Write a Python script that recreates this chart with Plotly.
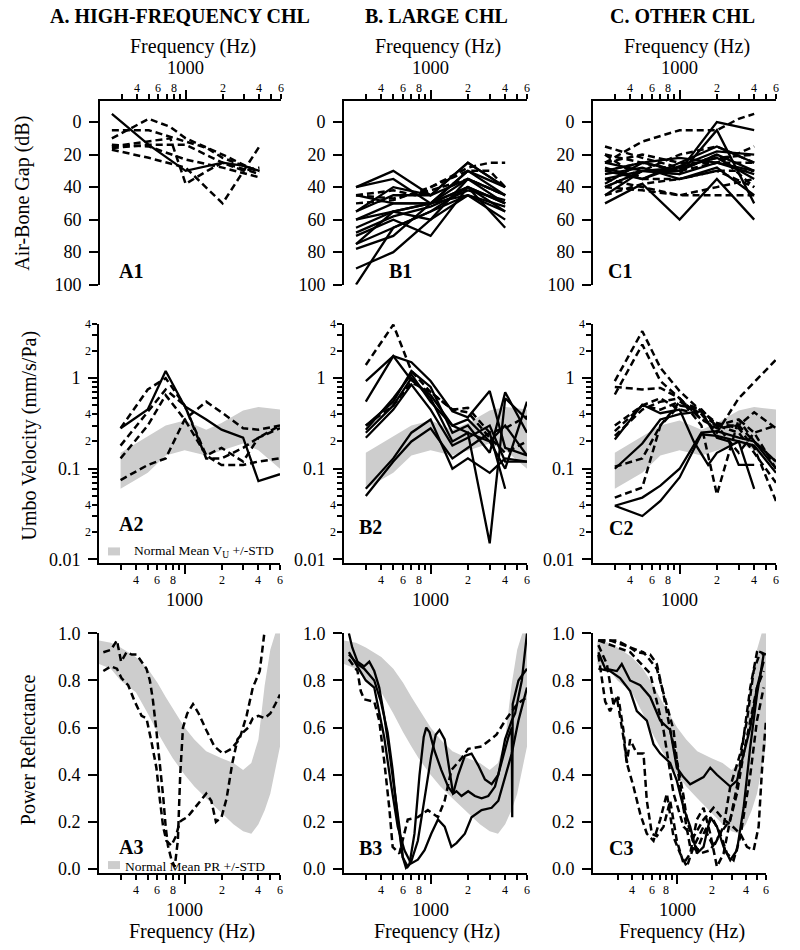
import numpy as np
import plotly.graph_objects as go

W, H = 800, 950
FONT = "Liberation Serif"
INK = "#000000"
BAND = "rgb(205,205,205)"

# ============================ DATA ============================
# ---------- Row 1: Air-Bone Gap (dB) ----------
A1_SOLID_F = [[250, 500, 1000, 2000, 3000, 4000]]
A1_SOLID_V = [[-5, 14, 30, 25, 27, 30]]
A1_DASH_F = [
    [250, 500, 750, 1000, 2000, 4000],
    [250, 500, 1000, 1500, 2000, 3000, 4000],
    [250, 500, 1000, 2000, 4000],
    [250, 500, 1000, 2000, 4000],
    [250, 750, 1000, 1500, 2000, 3000, 4000],
    [250, 500, 1000, 2000, 3000, 4000],
]
A1_DASH_V = [
    [10, -2, 3, 10, 20, 31],
    [5, 5, 12, 16, 22, 27, 30],
    [14, 15, 23, 28, 34],
    [17, 22, 28, 50, 15],
    [15, 10, 38, 30, 25, 30, 28],
    [16, 14, 14, 25, 29, 32],
]

B1_FREQ = [250, 500, 1000, 2000, 4000]
B1_SOLID_V = [
    [40, 30, 45, 25, 40],
    [40, 35, 50, 30, 45],
    [55, 45, 45, 35, 50],
    [60, 50, 50, 40, 55],
    [65, 55, 60, 35, 45],
    [70, 60, 70, 40, 50],
    [75, 65, 55, 45, 60],
    [78, 70, 50, 40, 65],
    [90, 80, 60, 45, 55],
    [100, 65, 55, 40, 50],
    [60, 55, 50, 30, 40],
    [45, 50, 50, 35, 45],
    [68, 58, 52, 42, 48],
    [55, 40, 45, 25, 40],
    [75, 55, 50, 45, 52],
]
B1_DASH_F = [
    [250, 500, 750, 1000, 2000, 3000, 4000],
    [250, 500, 1000, 2000, 3000, 4000],
    [250, 500, 1000, 2000, 4000],
]
B1_DASH_V = [
    [45, 42, 45, 40, 28, 25, 25],
    [50, 48, 40, 30, 30, 40],
    [45, 47, 42, 35, 45],
]

C1_FREQ = [250, 500, 1000, 2000, 4000]
C1_SOLID_V = [
    [50, 38, 60, 35, 60],
    [45, 30, 30, 0, 5],
    [35, 30, 32, 5, 50],
    [30, 25, 30, 20, 30],
    [28, 35, 25, 15, 25],
    [40, 30, 28, 22, 35],
    [25, 30, 32, 25, 30],
    [32, 28, 35, 28, 45],
    [30, 35, 27, 18, 20],
    [38, 25, 22, 25, 32],
]
C1_DASH_F = [
    [250, 500, 1000, 2000, 3000, 4000],
    [250, 500, 1000, 2000, 4000],
    [250, 500, 1000, 2000, 4000],
    [250, 500, 1000, 2000, 4000],
    [250, 500, 1000, 2000, 4000],
    [250, 500, 1000, 2000, 4000],
    [250, 500, 1000, 2000, 4000],
    [250, 500, 1000, 2000, 4000],
    [250, 500, 1000, 2000, 4000],
    [250, 500, 1000, 2000, 4000],
]
C1_DASH_V = [
    [25, 12, 5, 5, -2, -5],
    [20, 25, 30, 20, 40],
    [40, 42, 45, 45, 45],
    [25, 20, 25, 25, 15],
    [35, 40, 45, 40, 35],
    [30, 25, 30, 25, 25],
    [20, 35, 35, 30, 30],
    [40, 30, 20, 15, 25],
    [15, 22, 28, 22, 20],
    [45, 38, 35, 30, 40],
]

# ---------- Row 2: Umbo velocity (mm/s/Pa) ----------
UV_FREQ = [300, 500, 700, 1000, 1500, 2000, 3000, 4000, 6000]
UV_BAND_F = [300, 400, 500, 700, 1000, 1500, 2000, 3000, 4000, 6000]
UV_BAND_HI = [0.15, 0.19, 0.23, 0.30, 0.34, 0.27, 0.32, 0.44, 0.48, 0.45]
UV_BAND_LO = [0.06, 0.075, 0.09, 0.14, 0.16, 0.14, 0.16, 0.19, 0.16, 0.10]

A2_SOLID_V = [[0.28, 0.45, 1.2, 0.49, 0.35, 0.27, 0.22, 0.073, 0.087]]
A2_DASH_V = [
    [0.28, 0.75, 1.0, 0.5, 0.13, 0.13, 0.17, 0.22, 0.30],
    [0.18, 0.42, 0.75, 0.5, 0.14, 0.11, 0.11, 0.12, 0.13],
    [0.13, 0.30, 0.65, 0.35, 0.14, 0.17, 0.12, 0.22, 0.28],
    [0.075, 0.11, 0.13, 0.35, 0.55, 0.42, 0.28, 0.27, 0.30],
]

B2_SOLID_V = [
    [0.93, 1.75, 1.5, 0.93, 0.43, 0.37, 0.72, 0.17, 0.14],
    [0.55, 1.75, 0.95, 0.65, 0.30, 0.25, 0.20, 0.10, 0.55],
    [0.30, 0.55, 1.2, 0.80, 0.25, 0.30, 0.15, 0.70, 0.25],
    [0.25, 0.50, 1.0, 0.60, 0.20, 0.25, 0.015, 0.60, 0.35],
    [0.22, 0.45, 0.85, 0.45, 0.18, 0.22, 0.30, 0.12, 0.12],
    [0.06, 0.13, 0.25, 0.35, 0.10, 0.13, 0.09, 0.13, 0.12],
    [0.05, 0.12, 0.20, 0.28, 0.13, 0.17, 0.25, 0.06, None],
    [0.27, 0.60, 1.1, 0.55, 0.30, 0.35, 0.20, 0.30, 0.14],
]
B2_DASH_V = [
    [1.4, 3.9, 1.2, 0.70, 0.45, 0.47, 0.25, 0.28, 0.38],
    [0.30, 0.50, 0.90, 0.70, 0.45, 0.42, 0.22, 0.15, 0.20],
]

C2_SOLID_F = [
    [300, 500, 700, 1000, 1300, 1700, 2000, 3000, 4000],
    [300, 500, 700, 1000, 1500, 2000, 2500, 3000, 4000],
    [300, 500, 700, 1000, 1500, 2000, 3000, 4000, 6000],
    [300, 500, 700, 1000, 1500, 2000, 3000, 4000, 6000],
]
C2_SOLID_V = [
    [0.21, 0.51, 0.41, 0.45, 0.20, 0.11, 0.15, 0.20, 0.06],
    [0.10, 0.19, 0.35, 0.40, 0.43, 0.22, 0.20, 0.11, 0.11],
    [0.039, 0.030, 0.044, 0.08, 0.24, 0.23, 0.20, 0.18, 0.09],
    [0.039, 0.048, 0.065, 0.10, 0.25, 0.26, 0.22, 0.20, 0.10],
]
C2_DASH_V = [
    [0.93, 3.3, 1.3, 0.72, 0.43, 0.32, 0.28, 0.17, 0.044],
    [0.66, 2.35, 0.93, 0.60, 0.30, 0.052, 0.35, 0.25, 0.10],
    [0.80, 0.75, 0.78, 0.60, 0.35, 0.30, 0.15, 0.25, 0.30],
    [0.26, 0.50, 0.45, 0.55, 0.45, 0.30, 0.35, 0.20, 0.12],
    [0.105, 0.13, 0.30, 0.55, 0.40, 0.30, 0.25, 0.15, 0.07],
    [0.048, 0.062, 0.30, 0.50, 0.45, 0.30, 0.30, 0.20, 0.12],
    [0.30, 0.50, 0.60, 0.45, 0.40, 0.25, 0.60, 0.90, 1.6],
    [0.23, 0.45, 0.55, 0.60, 0.35, 0.28, 0.30, 0.42, 0.28],
]

# ---------- Row 3: Power reflectance ----------
PR_BAND_F = [200, 250, 300, 400, 500, 600, 700, 800, 1000, 1200, 1500, 2000,
             2500, 3000, 3500, 4000, 4500, 5000, 5500, 6000]
PR_BAND_HI = [0.97, 0.96, 0.94, 0.90, 0.85, 0.79, 0.73, 0.68, 0.60, 0.55, 0.50,
              0.47, 0.45, 0.42, 0.45, 0.55, 0.78, 0.93, 1.0, 1.0]
PR_BAND_LO = [0.87, 0.85, 0.80, 0.75, 0.66, 0.58, 0.52, 0.47, 0.40, 0.35, 0.30,
              0.24, 0.19, 0.16, 0.15, 0.19, 0.25, 0.32, 0.42, 0.52]

A3_DASH_F = [
    [217, 250, 280, 303, 336, 370, 405, 445, 488, 520, 550, 590, 630, 670, 700,
     730, 780, 830, 880, 920, 969, 1050, 1170, 1300, 1500, 1750, 2050, 2400,
     2800, 3200, 3600, 3830, 4100, 4470],
    [217, 250, 280, 305, 346, 392, 445, 488, 536, 588, 626, 667, 710, 779, 850,
     911, 969, 1050, 1170, 1300, 1500, 1650, 1800, 2000, 2200, 2450, 2700, 3000,
     3300, 3600, 4000, 4500, 5000, 5500, 6000],
]
A3_DASH_V = [
    [0.92, 0.93, 0.97, 0.88, 0.92, 0.91, 0.91, 0.88, 0.85, 0.80, 0.72, 0.58,
     0.45, 0.30, 0.18, 0.10, 0.04, 0.01, 0.12, 0.40, 0.60, 0.66, 0.70, 0.66,
     0.59, 0.52, 0.49, 0.51, 0.55, 0.65, 0.77, 0.80, 0.84, 1.0],
    [0.84, 0.86, 0.85, 0.81, 0.78, 0.71, 0.65, 0.64, 0.54, 0.43, 0.30, 0.18,
     0.12, 0.10, 0.14, 0.20, 0.21, 0.22, 0.25, 0.28, 0.32, 0.29, 0.20, 0.22,
     0.30, 0.45, 0.55, 0.58, 0.60, 0.64, 0.65, 0.64, 0.66, 0.70, 0.74],
]

B3_SOLID_F = [
    [219, 233, 257, 291, 320, 351, 385, 422, 464, 510, 560, 596, 633, 675, 741,
     814, 880, 922, 981, 1078, 1221, 1383, 1519, 1669, 1890, 2140, 2424, 2746,
     3110, 3523, 3990, 4520, 4810, 5448, 6000],
    [219, 257, 291, 351, 397, 450, 494, 543, 596, 654, 696, 789, 894, 1012,
     1100, 1180, 1299, 1383, 1472, 1519, 1617, 1776, 2011, 2278, 2580, 2922,
     3310, 3749, 4247, 4520, 4560, 4600, 5119, 5448, 6000],
    [219, 257, 300, 351, 422, 479, 543, 615, 696, 789, 894, 1012, 1147, 1299,
     1472, 1617, 1890, 2140, 2580, 3110, 3523, 3990, 4520, 5119, 6000],
]
B3_SOLID_V = [
    [1.0, 0.94, 0.88, 0.86, 0.88, 0.84, 0.77, 0.65, 0.50, 0.35, 0.18, 0.05,
     0.005, 0.02, 0.15, 0.40, 0.56, 0.60, 0.58, 0.50, 0.42, 0.35, 0.32, 0.40,
     0.48, 0.49, 0.44, 0.38, 0.36, 0.40, 0.55, 0.63, 0.66, 0.80, 1.0],
    [0.91, 0.87, 0.85, 0.80, 0.71, 0.58, 0.42, 0.21, 0.05, 0.01, 0.03, 0.12,
     0.30, 0.48, 0.57, 0.59, 0.55, 0.45, 0.36, 0.32, 0.33, 0.31, 0.33, 0.31,
     0.30, 0.31, 0.35, 0.46, 0.56, 0.60, 0.22, 0.70, 0.80, 0.82, 0.85],
    [0.92, 0.86, 0.80, 0.77, 0.56, 0.36, 0.18, 0.08, 0.024, 0.04, 0.08, 0.15,
     0.21, 0.18, 0.094, 0.11, 0.15, 0.22, 0.25, 0.26, 0.29, 0.39, 0.49, 0.63,
     0.77],
]
B3_DASH_F = [[219, 257, 273, 291, 351, 385, 422, 464, 494, 560, 654, 789, 951,
              1147, 1299, 1472, 1776, 2011, 2580, 3400, 4000, 5000, 6000]]
B3_DASH_V = [[0.89, 0.84, 0.755, 0.72, 0.71, 0.63, 0.46, 0.26, 0.094, 0.066,
              0.21, 0.22, 0.25, 0.22, 0.29, 0.42, 0.47, 0.51, 0.52, 0.57, 0.63,
              0.70, 0.73]]

C3_SOLID_F = [
    [204, 234, 296, 327, 387, 474, 580, 710, 868, 993, 1137, 1300, 1702, 1948,
     2229, 2550, 2918, 3339, 3820, 4371, 5001, 5722],
    [204, 258, 316, 387, 443, 542, 620, 710, 868, 993, 1137, 1300, 1488, 1702,
     1948, 2229, 2550, 2918, 3339, 3820, 4371, 5001, 5722],
]
C3_SOLID_V = [
    [0.92, 0.85, 0.84, 0.87, 0.80, 0.78, 0.73, 0.63, 0.59, 0.43, 0.39, 0.36,
     0.39, 0.43, 0.40, 0.375, 0.35, 0.375, 0.49, 0.60, 0.77, 0.88],
    [0.85, 0.84, 0.81, 0.755, 0.67, 0.63, 0.53, 0.49, 0.45, 0.375, 0.26, 0.18,
     0.066, 0.094, 0.22, 0.18, 0.094, 0.038, 0.08, 0.26, 0.52, 0.74, 0.91],
]
C3_DASH_F = [
    [204, 258, 387, 507, 663, 812, 929, 1027, 1176, 1300, 1488, 1702, 2015,
     2384, 2728, 3121, 3571, 4371, 5001, 5722],
    [204, 242, 276, 305, 338, 362, 387, 443, 507, 542, 600, 663, 759, 868, 993,
     1137, 1300, 1488, 1702, 1948, 2229, 2550, 2918, 3339, 3820, 4371, 5001,
     5722],
    [204, 296, 387, 443, 580, 663, 759, 868, 993, 1137, 1216, 1391, 1592, 1948,
     2384, 2918, 3339, 3820, 4371, 5001, 5722],
    [204, 234, 258, 296, 338, 362, 414, 474, 542, 620, 710, 812, 929, 1062,
     1216, 1391, 1702, 2084, 2550, 2918, 3571, 4086, 4676, 5349, 6000],
    [204, 387, 580, 759, 929, 1137, 1391, 1702, 2084, 2550, 2918, 3571, 4086,
     4676, 5172, 5533, 6000],
]
C3_DASH_V = [
    [0.97, 0.97, 0.94, 0.92, 0.85, 0.70, 0.59, 0.40, 0.21, 0.094, 0.08, 0.15,
     0.22, 0.15, 0.066, 0.038, 0.136, 0.40, 0.63, 0.77],
    [0.95, 0.87, 0.70, 0.73, 0.59, 0.45, 0.55, 0.49, 0.49, 0.29, 0.15, 0.14,
     0.18, 0.29, 0.12, 0.024, 0.066, 0.21, 0.26, 0.15, 0.01, 0.066, 0.21, 0.32,
     0.49, 0.63, 0.77, 0.84],
    [0.97, 0.97, 0.94, 0.92, 0.91, 0.87, 0.74, 0.59, 0.46, 0.31, 0.21, 0.11,
     0.066, 0.08, 0.15, 0.21, 0.35, 0.56, 0.77, 0.92, 0.91],
    [0.91, 0.71, 0.67, 0.73, 0.56, 0.45, 0.35, 0.235, 0.15, 0.12, 0.21, 0.32,
     0.136, 0.066, 0.01, 0.094, 0.18, 0.094, 0.18, 0.35, 0.49, 0.63, 0.84,
     0.92, 0.91],
    [0.97, 0.92, 0.83, 0.59, 0.32, 0.18, 0.136, 0.21, 0.26, 0.21, 0.19, 0.15,
     0.094, 0.08, 0.18, 0.42, 0.63],
]

# ---------- tick labels ----------
ABG_TICKS = [0, 20, 40, 60, 80, 100]
UV_MAJOR = [0.01, 0.1, 1]
UV_MAJOR_TEXT = ["0.01", "0.1", "1"]
UV_SMALL = [0.02, 0.04, 0.2, 0.4, 2, 4]
UV_SMALL_TEXT = ["2", "4", "2", "4", "2", "4"]
UV_MINOR = [0.02, 0.03, 0.04, 0.05, 0.06, 0.07, 0.08, 0.09,
            0.2, 0.3, 0.4, 0.5, 0.6, 0.7, 0.8, 0.9, 2, 3, 4]
PR_TICKS = [0.0, 0.2, 0.4, 0.6, 0.8, 1.0]
PR_TICK_TEXT = ["0.0", "0.2", "0.4", "0.6", "0.8", "1.0"]
FREQ_MAJOR = [1000]
FREQ_MINOR = [300, 400, 500, 600, 700, 800, 900, 2000, 3000, 4000, 5000, 6000]
FREQ_LABEL_F = [400, 600, 800, 2000, 4000, 6000]
FREQ_LABEL_T = ["4", "6", "8", "2", "4", "6"]

COL_TITLES = ["A. HIGH-FREQUENCY CHL", "B. LARGE CHL", "C. OTHER CHL"]
PANEL_TAGS = ["A1", "B1", "C1", "A2", "B2", "C2", "A3", "B3", "C3"]

# ============================ LAYOUT GEOMETRY (px) ============================
PANEL_X = [(100, 281, 200), (344, 527, 200), (593, 776, 200),
           (99, 280, 200), (344, 527, 200), (593, 776, 200),
           (99, 280, 200), (344, 527, 200), (593, 766, 183)]
ROW_Y = [(100, 284), (323, 563), (633, 873)]
ROW_RANGE = [[100, -13], [np.log10(0.009), np.log10(4)], [-0.017, 1.0]]

# vertical calibration of the captured page
Y_SCALE, Y_SHIFT = 0.980, 9.0


def px(x):
    return x / W


def py(y):
    return 1 - ((y - Y_SHIFT) / Y_SCALE) / H


def ax_id(i, letter):
    return letter if i == 1 else f"{letter}{i}"


fig = go.Figure()
layout = {}
annotations = []
shapes = []


def add_lines(i, flist, vlist, dashed, width):
    for f, v in zip(flist, vlist):
        fig.add_trace(go.Scatter(
            x=f, y=v, mode="lines", showlegend=False, hoverinfo="skip",
            line=dict(color=INK, width=width,
                      dash="7px,4px" if dashed else "solid"),
            connectgaps=False,
            xaxis=ax_id(i, "x"), yaxis=ax_id(i, "y")))


def add_band(i, f, lo, hi):
    fig.add_trace(go.Scatter(x=f, y=hi, mode="lines", line=dict(width=0, color=BAND),
                             showlegend=False, hoverinfo="skip",
                             xaxis=ax_id(i, "x"), yaxis=ax_id(i, "y")))
    fig.add_trace(go.Scatter(x=f, y=lo, mode="lines", line=dict(width=0, color=BAND),
                             fill="tonexty", fillcolor=BAND,
                             showlegend=False, hoverinfo="skip",
                             xaxis=ax_id(i, "x"), yaxis=ax_id(i, "y")))


# ---- traces ----
add_lines(1, A1_DASH_F, A1_DASH_V, True, 2.5)
add_lines(1, A1_SOLID_F, A1_SOLID_V, False, 2.3)
add_lines(2, [B1_FREQ] * len(B1_SOLID_V), B1_SOLID_V, False, 2.3)
add_lines(2, B1_DASH_F, B1_DASH_V, True, 2.5)
add_lines(3, C1_DASH_F, C1_DASH_V, True, 2.5)
add_lines(3, [C1_FREQ] * len(C1_SOLID_V), C1_SOLID_V, False, 2.3)

for i in (4, 5, 6):
    add_band(i, UV_BAND_F, UV_BAND_LO, UV_BAND_HI)
add_lines(4, [UV_FREQ] * len(A2_DASH_V), A2_DASH_V, True, 2.5)
add_lines(4, [UV_FREQ], A2_SOLID_V, False, 2.3)
add_lines(5, [UV_FREQ] * len(B2_SOLID_V), B2_SOLID_V, False, 2.3)
add_lines(5, [UV_FREQ] * len(B2_DASH_V), B2_DASH_V, True, 2.5)
add_lines(6, [UV_FREQ] * len(C2_DASH_V), C2_DASH_V, True, 2.5)
add_lines(6, C2_SOLID_F, C2_SOLID_V, False, 2.3)

for i in (7, 8, 9):
    add_band(i, PR_BAND_F, PR_BAND_LO, PR_BAND_HI)
add_lines(7, A3_DASH_F, A3_DASH_V, True, 2.5)
add_lines(8, B3_DASH_F, B3_DASH_V, True, 2.5)
add_lines(8, B3_SOLID_F, B3_SOLID_V, False, 2.3)
add_lines(9, C3_DASH_F, C3_DASH_V, True, 2.5)
add_lines(9, C3_SOLID_F, C3_SOLID_V, False, 2.3)

# ---- axes ----
tickfont = dict(family=FONT, size=18, color=INK)
for k in range(9):
    i = k + 1
    row = k // 3
    x0, x1, fmin = PANEL_X[k]
    y0, y1 = ROW_Y[row]
    xa = dict(domain=[px(x0), px(x1)], type="log",
              range=[np.log10(fmin), np.log10(6000)],
              anchor=ax_id(i, "y"), side="top" if row == 0 else "bottom",
              showline=True, linecolor=INK, linewidth=2, mirror=False,
              showgrid=False, zeroline=False,
              tickmode="array", tickvals=FREQ_MAJOR, ticks="outside",
              ticklen=9, tickwidth=1.5, tickcolor=INK, showticklabels=False,
              minor=dict(tickmode="array", tickvals=FREQ_MINOR, ticks="outside",
                         ticklen=5, tickwidth=1.5, tickcolor=INK, showgrid=False))
    ya = dict(domain=[py(y1), py(y0)], range=ROW_RANGE[row],
              anchor=ax_id(i, "x"), showline=True, linecolor=INK, linewidth=2,
              showgrid=False, zeroline=False, ticks="outside", ticklen=9,
              tickwidth=1.5, tickcolor=INK, tickfont=tickfont,
              tickmode="array", ticklabelstandoff=4)
    if row == 0:
        ya.update(tickvals=ABG_TICKS, ticktext=[str(t) for t in ABG_TICKS])
    elif row == 1:
        ya.update(type="log", tickvals=UV_MAJOR, ticktext=UV_MAJOR_TEXT,
                  minor=dict(tickmode="array", tickvals=UV_MINOR, ticks="outside",
                             ticklen=5, tickwidth=1.5, tickcolor=INK, showgrid=False))
    else:
        ya.update(tickvals=PR_TICKS, ticktext=PR_TICK_TEXT)
    layout[("xaxis" if i == 1 else f"xaxis{i}")] = xa
    layout[("yaxis" if i == 1 else f"yaxis{i}")] = ya

    # frequency tick labels
    lab_y, big_y = [(87, 67), (580, 600), (890, 910)][row]
    for f, t in zip(FREQ_LABEL_F, FREQ_LABEL_T):
        annotations.append(dict(text=t, x=np.log10(f), xref=ax_id(i, "x"),
                                y=py(lab_y), yref="paper", showarrow=False,
                                xanchor="center", yanchor="middle", borderpad=0,
                                font=dict(family=FONT, size=12, color=INK)))
    annotations.append(dict(text="1000", x=np.log10(1000), xref=ax_id(i, "x"),
                            y=py(big_y), yref="paper", showarrow=False,
                            xanchor="center", yanchor="middle", borderpad=0,
                            font=dict(family=FONT, size=18.5, color=INK)))
    # small log labels on umbo-velocity axes
    if row == 1:
        for v, t in zip(UV_SMALL, UV_SMALL_TEXT):
            annotations.append(dict(text=t, x=px(x0 - 7), xref="paper",
                                    y=np.log10(v), yref=ax_id(i, "y"),
                                    showarrow=False, xanchor="right",
                                    yanchor="middle", borderpad=0,
                                    font=dict(family=FONT, size=12, color=INK)))


def ann(text, x, y, size, bold=False, angle=0, xanchor="center"):
    return dict(text=f"<b>{text}</b>" if bold else text, x=px(x), y=py(y),
                xref="paper", yref="paper", showarrow=False, textangle=angle,
                xanchor=xanchor, yanchor="middle", borderpad=0,
                font=dict(family=FONT, size=size, color=INK))


# column titles
for t, cx in zip(COL_TITLES, [180, 436, 682]):
    annotations.append(ann(t, cx, 15.5, 20, bold=True))
# frequency titles
for cx in [193, 438, 687]:
    annotations.append(ann("Frequency (Hz)", cx, 46, 20))
for cx in [192, 437, 682]:
    annotations.append(ann("Frequency (Hz)", cx, 931, 20))
# y-axis titles
annotations.append(ann("Air-Bone Gap (dB)", 23, 193, 20, angle=-90))
annotations.append(ann("Umbo Velocity (mm/s/Pa)", 30, 435, 20, angle=-90))
annotations.append(ann("Power Reflectance", 28, 750, 20, angle=-90))
# panel tags
TAG_POS = [(131, 270), (400, 270), (620, 270), (131, 524), (370, 527),
           (621, 528), (131, 847), (370, 848), (621, 848)]
for t, (x, y) in zip(PANEL_TAGS, TAG_POS):
    annotations.append(ann(t, x, y, 20, bold=True))
# legends
annotations.append(ann("Normal Mean V<sub>U</sub> +/-STD", 133, 551, 13.5,
                       xanchor="left"))
annotations.append(ann("Normal Mean PR +/-STD", 124, 866.5, 13.5, xanchor="left"))
for (x0, y0, x1, y1) in [(108, 547, 120, 555), (108, 861, 120, 869)]:
    shapes.append(dict(type="rect", xref="paper", yref="paper",
                       x0=px(x0), x1=px(x1), y0=py(y1), y1=py(y0),
                       fillcolor=BAND, line=dict(width=0)))

fig.update_layout(width=W, height=H, margin=dict(l=0, r=0, t=0, b=0),
                  paper_bgcolor="white", plot_bgcolor="white",
                  font=dict(family=FONT, color=INK),
                  annotations=annotations, shapes=shapes, showlegend=False,
                  **layout)

fig.write_html("out.html", config={"displayModeBar": False},
               post_script="document.body.style.margin='0px';")
